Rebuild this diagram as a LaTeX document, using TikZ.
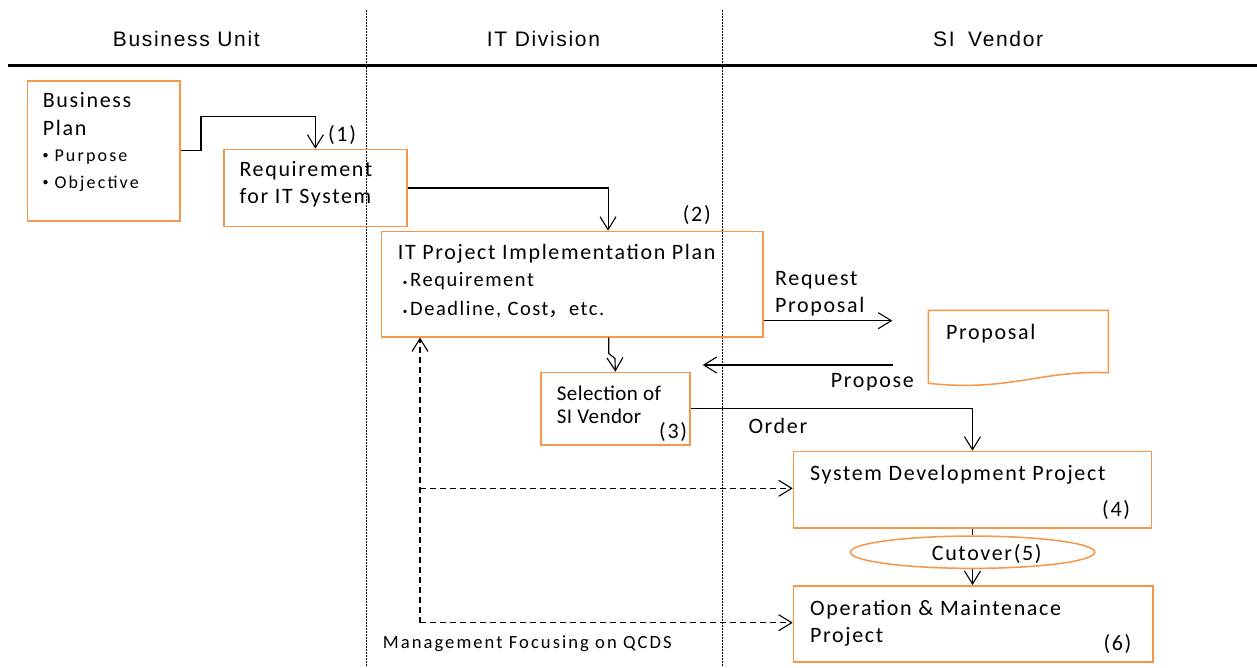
\documentclass[tikz,border=0pt]{standalone}
\usepackage{fontspec}
\usetikzlibrary{arrows.meta,shapes.geometric,calc}
\newfontfamily\mainf{Carlito}[LetterSpace=7.5]
\newfontfamily\tightf{Carlito}[LetterSpace=2]
\newfontfamily\bulf{Carlito}[LetterSpace=12]
\newfontfamily\mgmtf{Carlito}[LetterSpace=11]
\newfontfamily\hdrf{Liberation Sans}[LetterSpace=8]
\newfontfamily\cjk{Noto Sans CJK JP}
\definecolor{orng}{HTML}{F79646}
\newcommand{\bdot}[2]{\makebox[#1][c]{\raisebox{-4pt}{\cjk\fontsize{#2}{#2}\selectfont ･}}}
\begin{document}
\begin{tikzpicture}[x=1pt,y=-1pt,
  box/.style={draw=orng, line width=1.5pt, inner sep=0, anchor=north west},
  txt/.style={inner sep=0, anchor=base west, font=\mainf\fontsize{22}{26}\selectfont},
  subtxt/.style={inner sep=0, anchor=base west, font=\mainf\fontsize{20.5}{24}\selectfont},
  bultxt/.style={inner sep=0, anchor=base west, font=\bulf\fontsize{18}{22}\selectfont},
  seltxt/.style={inner sep=0, anchor=base west, font=\tightf\fontsize{21}{25}\selectfont},
  mgtxt/.style={inner sep=0, anchor=base west, font=\mgmtf\fontsize{18.6}{22}\selectfont},
  hdr/.style={inner sep=0, anchor=base west, font=\hdrf\fontsize{21}{25}\selectfont},
  conn/.style={line width=1.1pt, draw=black},
  arr/.style={-{Straight Barb[length=13pt,width=16pt,line width=1.1pt]}},
  qcds/.style={line width=1.1pt, dash pattern=on 6pt off 4pt},
  sep/.style={line width=0.9pt, dash pattern=on 2pt off 1pt}
]
\useasboundingbox (0,0) rectangle (1257,667);
\fill[white] (0,0) rectangle (1257,667);

% lanes
\coordinate (s1a) at (366,10); \coordinate (s1b) at (366,667);
\coordinate (s2a) at (722,10); \coordinate (s2b) at (722,667);
\draw[sep] (s1a) -- (s1b);
\draw[sep] (s2a) -- (s2b);
\coordinate (h1) at (8,65.3); \coordinate (h2) at (1257,65.3);
\draw[line width=2.5pt] (h1) -- (h2);
\node[hdr] (hbu) at (112.7,46.7) {Business Unit};
\node[hdr] (hit) at (486.7,46.7) {IT Division};
\node[hdr] (hsi) at (933,46.7) {SI\hspace{6pt} Vendor};

% boxes
\node[box, minimum width=152.3, minimum height=140] (bp) at (26.7,80) {};
\node[box, minimum width=183.3, minimum height=77] (req) at (223,148.7) {};
\node[box, minimum width=381.6, minimum height=105.3] (itp) at (380.7,230.7) {};
\node[box, minimum width=149.3, minimum height=72.3] (sel) at (540,371.7) {};
\node[box, minimum width=358, minimum height=76.6] (sdp) at (792.7,450.7) {};
\node[box, minimum width=359.6, minimum height=76] (om) at (792.7,585) {};
\node[draw=orng, line width=1.5pt, ellipse, inner sep=0, minimum width=244.4, minimum height=32.3] (cut) at (972.5,552.2) {};
\node[inner sep=0, anchor=north west, minimum width=180, minimum height=73] (prop) at (928.3,310.3) {};
\draw[orng, line width=1.5pt] (928.3,383.3) -- (928.3,310.3) -- (1108.3,310.3) -- (1108.3,372.7)
  .. controls (1040,370) and (1010,392) .. (928.3,383.3);

% texts
\node[txt] (t1) at (42.7,107.7) {Business};
\node[txt] (t2) at (42.7,135) {Plan};
\node[bultxt] (t3) at (37.7,161.7) {\bdot{16.6pt}{26}Purpose};
\node[bultxt] (t4) at (37.7,188) {\bdot{16.6pt}{26}Objective};
\node[txt] (n1) at (328,141.7) {(1)};
\node[txt] (t5) at (239.3,176.7) {Requirement};
\node[txt] (t6) at (239.3,203.3) {for IT System};
\node[txt] (n2) at (682.7,221.7) {(2)};
\node[txt] (t7) at (397.7,259) {IT Project Implementation Plan};
\node[subtxt] (t8) at (400,286.7) {\bdot{10pt}{20}Requirement};
\node[subtxt] (t9) at (400,315) {\bdot{10pt}{20}Deadline, Cost{\cjk ，}etc.};
\node[txt] (t10) at (775,285) {Request};
\node[txt] (t11) at (775,312.7) {Proposal};
\node[txt] (t12) at (946,339.3) {Proposal};
\node[txt] (t13) at (830.7,387.7) {Propose};
\node[seltxt] (t14) at (556.7,400) {Selection of};
\node[seltxt] (t15) at (556.7,423.3) {SI Vendor};
\node[txt] (n3) at (659,438.3) {(3)};
\node[txt] (t16) at (748.3,433.3) {Order};
\node[txt] (t17) at (810,480) {System Development Project};
\node[txt] (n4) at (1102,516.7) {(4)};
\node[txt] (t18) at (931.7,560.7) {Cutover(5)};
\node[txt] (t19) at (810,615.7) {Operation \& Maintenace};
\node[txt] (t20) at (810,642.3) {Project};
\node[txt] (n6) at (1103.3,650.7) {(6)};
\node[mgtxt] (t21) at (382.7,648.3) {Management Focusing on QCDS};

% connectors
\draw[conn,arr] (bp.east) -| (201,116.7) -| (req.north);
\draw[conn,arr] (req.east) -| ([xshift=35.8pt]itp.north);
\draw[conn,arr] ([xshift=36.5pt]itp.south) -- ++(0,16) -- ++(6.2,5) -- (sel.north);
\coordinate (rp) at (892.3,320.7);
\draw[conn,arr] (rp -| itp.east) -- (rp);
\coordinate (pa) at (892.7,365);
\coordinate (pb) at (702.7,365);
\draw[conn,arr] (pa) -- (pb);
\draw[conn,arr] (sel.east) -| (sdp.north);
\draw[conn] (sdp.south) -- (sdp.south |- cut.north);
\draw[conn,arr] (cut.south) -- (cut.south |- om.north);
\coordinate (q0) at (420,622.7);
\coordinate (q1) at (420,488.3);
\draw[qcds,arr] (q0) -- (q0 |- itp.south);
\draw[qcds,arr] (q1) -- (q1 -| sdp.west);
\draw[qcds,arr] (q0) -- (q0 -| om.west);
\end{tikzpicture}
\end{document}
